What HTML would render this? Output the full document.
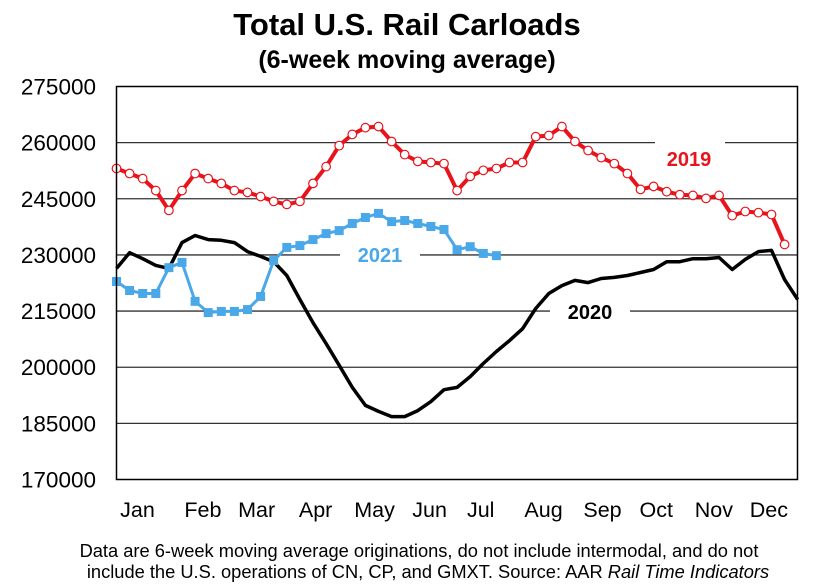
<!DOCTYPE html>
<html><head><meta charset="utf-8"><style>
body{margin:0;background:#fff;width:814px;height:588px;overflow:hidden;font-family:"Liberation Sans",Arial,sans-serif}
svg{display:block}
</style></head><body>
<svg id="chart" width="814" height="588">
<text x="407" y="35" text-anchor="middle" font-size="31" font-weight="bold">Total U.S. Rail Carloads</text>
<text x="407" y="68" text-anchor="middle" font-size="25" font-weight="bold">(6-week moving average)</text>
<g id="grid"></g><g id="yticks"></g><g id="xticks"></g>
<g id="labels"></g>
<g id="series"></g>
<rect x="116.5" y="86.5" width="681" height="393" fill="none" stroke="#000" stroke-width="1.5"/>
<text x="419" y="557" text-anchor="middle" font-size="18.3">Data are 6-week moving average originations, do not include intermodal, and do not</text>
<text x="428" y="578" text-anchor="middle" font-size="18.3">include the U.S. operations of CN, CP, and GMXT.   Source: AAR <tspan font-style="italic">Rail Time Indicators</tspan></text>
</svg>
<script>
const yTicks=[170000,185000,200000,215000,230000,245000,260000,275000];
const months=["Jan","Feb","Mar","Apr","May","Jun","Jul","Aug","Sep","Oct","Nov","Dec"];
const monthPos=[1.6,6.6,10.7,15.2,19.7,23.9,27.8,32.6,37.1,41.2,45.6,49.8];
const s2019=[253100,251750,250400,247200,241900,247200,251750,250400,249100,247200,246700,245600,244300,243500,244300,249100,253600,259200,262200,264000,264300,260300,256800,255000,254700,254400,247200,251000,252600,253100,254700,254700,261600,261900,264300,260300,257900,256000,254400,251750,247500,248300,246900,246100,245900,245100,245900,240500,241600,241300,240800,232800];
const s2020=[226400,230600,229000,227200,226400,233300,235200,234100,233900,233300,230900,229600,228200,224500,218100,211900,206300,200500,194600,189800,188200,186800,186800,188400,190800,194000,194600,197500,201000,204200,207100,210300,215700,219700,221800,223200,222600,223700,224000,224500,225300,226100,228200,228200,229000,229000,229300,226100,228800,230900,231200,223400,218100];
const s2021=[222900,220500,219700,219700,226600,228000,217600,214600,214900,214900,215400,218900,228500,232000,232500,234100,235700,236500,238400,240000,241100,238900,239200,238400,237600,236800,231400,232200,230400,229800];
const L=116.5,R=797.5,T=86.5,B=479.5,yMin=170000,yMax=275000,step=13.1;
const X=i=>L+i*step;
const Y=v=>B-(v-yMin)/(yMax-yMin)*(B-T);
const NS="http://www.w3.org/2000/svg";
function mk(tag,parent,attrs){const e=document.createElementNS(NS,tag);for(const k in attrs)e.setAttribute(k,attrs[k]);document.getElementById(parent).appendChild(e);return e;}
yTicks.forEach(v=>{
  if(v>yMin&&v<yMax){const g=mk('line','grid',{x1:L,x2:R,y1:Y(v),y2:Y(v),stroke:'#333','stroke-width':1.3});
  
  }
  const t=mk('text','yticks',{x:96,y:Y(v)+8,'text-anchor':'end','font-size':22.5});
  t.textContent=v;
  
  
});
months.forEach((m,i)=>{
  const t=mk('text','xticks',{x:X(monthPos[i]),y:517,'text-anchor':'middle','font-size':21.5});
  t.textContent=m;
  
  
});
[[655,128,70,40],[340,240,80,30],[550,297,80,30]].forEach(r=>{
  const m=mk('rect','labels',{x:r[0],y:r[1],width:r[2],height:r[3],fill:'#fff'});
  
  
});
[["2019",689,166,"#e8141c"],["2021",380,262,"#4aa8e8"],["2020",590,319,"#000"]].forEach(l=>{
  const t=mk('text','labels',{x:l[1],y:l[2],'text-anchor':'middle','font-size':20,'font-weight':'bold',fill:l[3]});
  t.textContent=l[0];
  
  
});
function pts(a){return a.map((v,i)=>X(i).toFixed(1)+','+Y(v).toFixed(1)).join(' ');}
const l20=mk('polyline','series',{points:pts(s2020),fill:'none',stroke:'#000','stroke-width':3.5,'stroke-linejoin':'round'});


const l21=mk('polyline','series',{points:pts(s2021),fill:'none',stroke:'#4aa8e8','stroke-width':3});


s2021.forEach((v,i)=>{
  const r=mk('rect','series',{x:X(i)-4.5,y:Y(v)-4.5,width:9,height:9,fill:'#4aa8e8'});
  
  
});
const l19=mk('polyline','series',{points:pts(s2019),fill:'none',stroke:'#e8141c','stroke-width':4});


s2019.forEach((v,i)=>{
  const c=mk('circle','series',{cx:X(i),cy:Y(v),r:4.3,fill:'#fff',stroke:'#e8141c','stroke-width':1.2});
  
  
});
</script>
</body></html>
